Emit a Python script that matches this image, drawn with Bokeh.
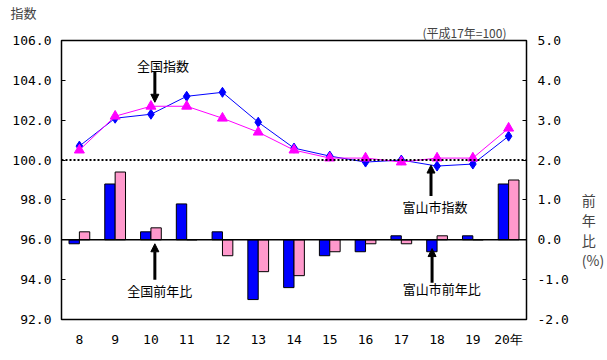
from bokeh.plotting import figure
from bokeh.models import (Range1d, LinearAxis, FixedTicker, NumeralTickFormatter,
                          Span, Arrow, NormalHead, Label, ColumnDataSource, Title)
from bokeh.transform import dodge
from bokeh.embed import file_html
from bokeh.resources import INLINE

# ---- data ----
years = ["8", "9", "10", "11", "12", "13", "14", "15", "16", "17", "18", "19", "20年"]
toyama_index = [100.7, 102.1, 102.3, 103.2, 103.4, 101.9, 100.6, 100.2, 99.9, 100.0, 99.7, 99.8, 101.2]
national_index = [100.5, 102.2, 102.7, 102.7, 102.1, 101.4, 100.5, 100.1, 100.1, 99.9, 100.1, 100.1, 101.6]
toyama_yoy = [-0.1, 1.4, 0.2, 0.9, 0.2, -1.5, -1.2, -0.4, -0.3, 0.1, -0.3, 0.1, 1.4]
national_yoy = [0.2, 1.7, 0.3, 0.0, -0.4, -0.8, -0.9, -0.3, -0.1, -0.1, 0.1, 0.0, 1.5]
left_ticks = [92, 94, 96, 98, 100, 102, 104, 106]
right_ticks = [-2, -1, 0, 1, 2, 3, 4, 5]

JP = "Noto Sans CJK JP"
MONO = "DejaVu Sans Mono"

xs = list(range(len(years)))
src = ColumnDataSource(dict(x=xs, ti=toyama_index, ni=national_index,
                            ty=toyama_yoy, ny=national_yoy))

p = figure(width=607, height=360, output_backend="svg", toolbar_location=None,
           x_range=Range1d(-0.5, len(years) - 0.5), y_range=Range1d(92, 106),
           min_border_left=61, min_border_right=70, min_border_top=38, min_border_bottom=41)
p.extra_y_ranges = {"pct": Range1d(-2, 5)}
p.grid.visible = False
p.outline_line_color = "black"
p.outline_line_width = 1.5
p.background_fill_color = "white"

# titles above the frame (first added = nearest the frame)
p.add_layout(Title(text="(平成17年=100)", align="right", offset=20, standoff=0,
                   text_font=JP, text_font_size="12px", text_font_style="normal",
                   text_line_height=1.0), "above")
p.add_layout(Title(text="指数", align="left", offset=-51, standoff=0,
                   text_font=JP, text_font_size="13px", text_font_style="normal",
                   text_line_height=1.0), "above")

# axes
xa = p.xaxis[0]
xa.ticker = FixedTicker(ticks=xs)
xa.major_label_overrides = {i: y for i, y in enumerate(years)}
xa.major_tick_in = 0
xa.major_tick_out = 0
xa.major_label_standoff = 12
xa.axis_line_color = "black"
xa.major_label_text_font = MONO
xa.major_label_text_font_size = "13px"
xa.major_label_text_color = "black"

ya = p.yaxis[0]
ya.ticker = FixedTicker(ticks=left_ticks)
ya.formatter = NumeralTickFormatter(format="0.0")
ya.major_tick_in = 4
ya.major_tick_out = 0
ya.minor_tick_in = 0
ya.minor_tick_out = 0
ya.major_label_standoff = 10
ya.major_label_text_font = MONO
ya.major_label_text_font_size = "13px"
ya.major_label_text_color = "black"

ra = LinearAxis(y_range_name="pct", ticker=FixedTicker(ticks=right_ticks),
                formatter=NumeralTickFormatter(format="0.0"))
ra.major_tick_in = 4
ra.major_tick_out = 0
ra.minor_tick_in = 0
ra.minor_tick_out = 0
ra.major_label_standoff = 11
ra.major_label_text_font = MONO
ra.major_label_text_font_size = "13px"
ra.major_label_text_color = "black"
ra.axis_label = "\u3000\n\u3000\n\u3000\n\u3000\n\u3000\n前\n年\n比\n(%)"
ra.axis_label_orientation = "horizontal"
ra.axis_label_standoff = 10
ra.axis_label_text_font = JP
ra.axis_label_text_font_size = "14px"
ra.axis_label_text_font_style = "normal"
ra.axis_label_text_line_height = 1.0
p.add_layout(ra, "right")

# reference lines
p.add_layout(Span(location=100, dimension="width", line_color="black",
                  line_width=2, line_dash="2 2"))
p.add_layout(Span(location=0, dimension="width", line_color="black",
                  line_width=1.5, y_range_name="pct"))

# bars
p.vbar(x=dodge("x", -0.145, range=p.x_range), top="ty", bottom=0, width=0.29,
       source=src, y_range_name="pct", fill_color="#0000FF", line_color="black", line_width=1)
p.vbar(x=dodge("x", 0.145, range=p.x_range), top="ny", bottom=0, width=0.29,
       source=src, y_range_name="pct", fill_color="#FF99CC", line_color="black", line_width=1)

# lines
p.line("x", "ti", source=src, line_color="#0000FF", line_width=1)
p.scatter("x", "ti", source=src, marker="diamond", size=10, fill_color="#0000FF", line_color="#0000FF")
p.line("x", "ni", source=src, line_color="#FF00FF", line_width=1)
p.scatter("x", "ni", source=src, marker="triangle", size=10, fill_color="#FF00FF", line_color="#FF00FF")

# annotations
def arrow(x, y0, y1, rng="default"):
    p.add_layout(Arrow(end=NormalHead(size=8, fill_color="black", line_color="black"),
                       x_start=x, y_start=y0, x_end=x, y_end=y1,
                       line_width=3, line_color="black", y_range_name=rng))

def label(x, y, t, rng="default", size="13px"):
    p.add_layout(Label(x=x, y=y, text=t, y_range_name=rng, text_font=JP,
                       text_font_size=size, text_align="center", text_baseline="middle",
                       text_color="black"))

label(2.34, 104.75, "全国指数")
arrow(2.11, 104.45, 102.9)
label(2.25, -1.28, "全国前年比", rng="pct")
arrow(2.11, -1.0, -0.1, rng="pct")
label(9.94, 97.67, "富山市指数")
arrow(9.83, 98.2, 99.75)
label(10.13, -1.23, "富山市前年比", rng="pct")
arrow(9.86, -1.08, -0.22, rng="pct")

open("out.html", "w").write(file_html(p, INLINE))
